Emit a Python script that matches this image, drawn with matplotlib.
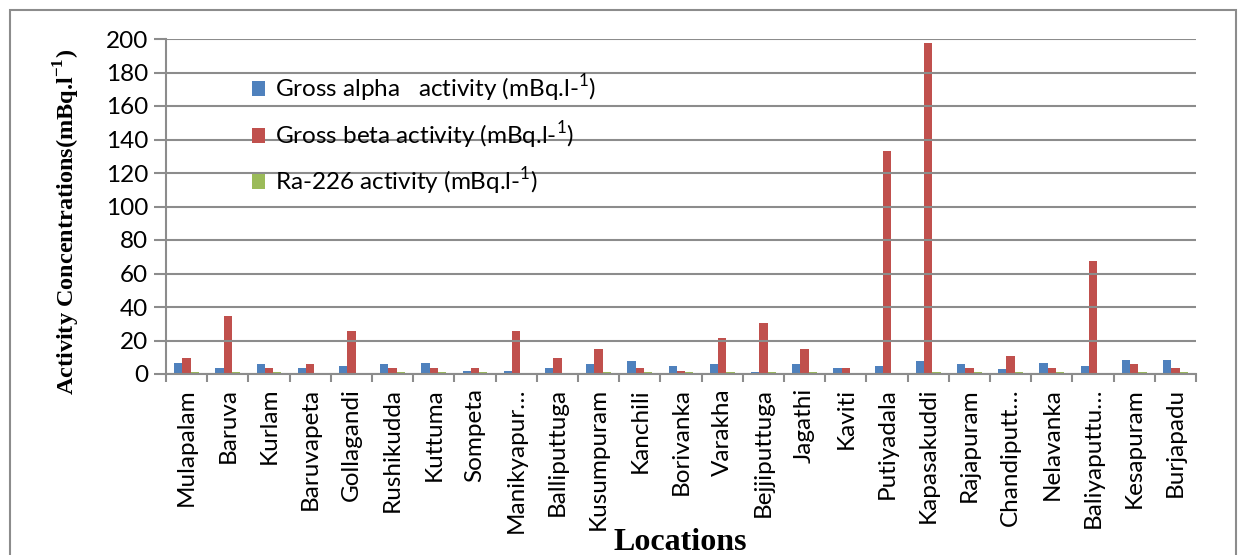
import matplotlib.pyplot as plt
import numpy as np
from matplotlib.patches import Rectangle

locations = ["Mulapalam", "Baruva", "Kurlam", "Baruvapeta", "Gollagandi", "Rushikudda",
             "Kuttuma", "Sompeta", "Manikyapur…", "Balliputtuga", "Kusumpuram", "Kanchili",
             "Borivanka", "Varakha", "Bejjiputtuga", "Jagathi", "Kaviti", "Putiyadala",
             "Kapasakuddi", "Rajapuram", "Chandiputt…", "Nelavanka", "Baliyaputtu…",
             "Kesapuram", "Burjapadu"]

gross_alpha = [6.6, 3.6, 6.0, 3.6, 4.8, 6.0, 6.6, 1.8, 1.8, 3.6, 6.0, 7.8,
               4.8, 6.0, 1.2, 6.0, 3.6, 4.8, 7.8, 6.0, 3.0, 6.6, 4.8, 8.4, 8.4]
gross_beta = [9.6, 34.8, 3.6, 6.0, 25.8, 3.6, 3.6, 3.6, 25.8, 9.6, 15.0, 3.6,
              1.8, 21.6, 30.6, 15.0, 3.6, 133.0, 197.5, 3.6, 10.8, 3.6, 67.3, 6.0, 3.6]
ra226 = [1.2, 1.2, 1.2, 0.6, 0.6, 1.2, 1.2, 1.2, 0.6, 0.6, 1.2, 1.2,
         1.2, 1.2, 1.2, 1.2, 0.6, 0.6, 1.2, 1.2, 1.2, 1.2, 0.6, 1.2, 1.2]

labels = ["Gross alpha   activity (mBq.l-$^{1}$)",
          "Gross beta activity (mBq.l-$^{1}$)",
          "Ra-226 activity (mBq.l-$^{1}$)"]
colors = ["#4F81BD", "#C0504D", "#9BBB59"]

plt.rcParams['font.family'] = ['Lato', 'DejaVu Sans']
plt.rcParams['mathtext.fontset'] = 'custom'
plt.rcParams['mathtext.rm'] = 'Lato'
plt.rcParams['mathtext.bf'] = 'Liberation Serif:bold'

fig = plt.figure(figsize=(12.46, 5.55), dpi=100)
ax = fig.add_axes([166 / 1246, 1 - 374 / 555, 1030 / 1246, 335 / 555])

n = len(locations)
x = np.arange(n)
w = 0.2
for k, (vals, lab, col) in enumerate(zip([gross_alpha, gross_beta, ra226], labels, colors)):
    ax.bar(x + (k - 1) * w, vals, w, color=col, label=lab, zorder=2)

ax.set_xlim(-0.5, n - 0.5)
ax.set_ylim(0, 200)
ax.set_yticks(range(0, 201, 20))
ax.yaxis.grid(True, color="#8c8c8c", linewidth=1.5, zorder=3)
ax.set_axisbelow(False)

ax.set_xticks(x)
ax.set_xticklabels(locations, rotation=90, fontsize=17.5)
ax.set_xticks(np.arange(-0.5, n, 1), minor=True)
ax.tick_params(axis="x", which="major", length=0, pad=10)
ax.tick_params(axis="x", which="minor", length=6, width=1.5, color="#8c8c8c")
ax.tick_params(axis="y", length=9, width=1.5, color="#8c8c8c", labelsize=17.5, pad=4)

for s in ["top", "right"]:
    ax.spines[s].set_visible(False)
for s in ["left", "bottom"]:
    ax.spines[s].set_color("#8c8c8c")
    ax.spines[s].set_linewidth(1.5)

ax.set_ylabel("Activity Concentrations(mBq.l$^{\\mathbf{-1}}$)", family="Liberation Serif",
              fontweight="bold", fontsize=17.5)
ax.yaxis.set_label_coords((82 - 166) / 1030, (374 - 222) / 335)
fig.text(680 / 1246, 1 - 542 / 555, "Locations", family="Liberation Serif",
         fontweight="bold", fontsize=23, ha="center", va="center")

leg = ax.legend(loc="upper left", bbox_to_anchor=(0.062, 0.965), frameon=False,
                fontsize=17.5, labelspacing=0.6, handlelength=0.55, handleheight=0.55,
                handletextpad=0.4)

fig.patches.append(Rectangle((10 / 1246, -0.01), 1226 / 1246, 1 - 10 / 555 + 0.01,
                             transform=fig.transFigure, fill=False,
                             edgecolor="#8c8c8c", linewidth=1.5))

fig.savefig("out.png", dpi=100)
